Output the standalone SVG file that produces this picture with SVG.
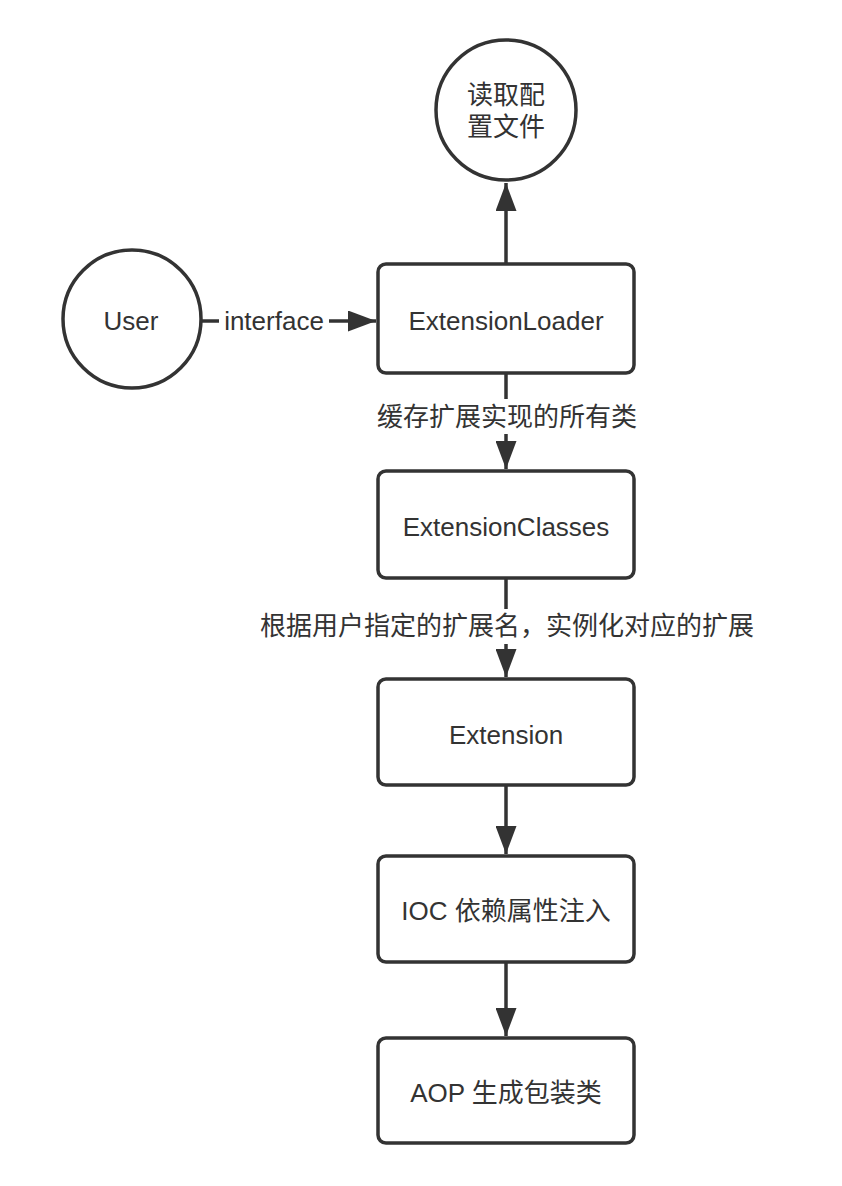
<svg xmlns="http://www.w3.org/2000/svg" width="842" height="1186" viewBox="0 0 842 1186">
<defs>
<style>
.shape{fill:#ffffff;stroke:#333333;stroke-width:3.5}
.edge{fill:none;stroke:#333333;stroke-width:3.5}
.t{font-family:"Liberation Sans","Noto Sans CJK SC",sans-serif;font-size:26px;fill:#333333;text-anchor:middle;dominant-baseline:central}
.lbl{fill:#ffffff;stroke:none}
</style>
<marker id="ah" markerWidth="8" markerHeight="6" refX="8" refY="3" orient="auto" markerUnits="strokeWidth">
<path d="M0,0 L8,3 L0,6 Z" fill="#333333"/>
</marker>
</defs>
<rect width="842" height="1186" fill="#ffffff"/>
<g id="connectors">
<line class="edge" x1="506" y1="263" x2="506" y2="183" marker-end="url(#ah)"/>
<line class="edge" x1="202" y1="321" x2="376" y2="321" marker-end="url(#ah)"/>
<rect class="lbl" x="219" y="306" width="110" height="30"/>
<text class="t" x="274" y="321">interface</text>
<line class="edge" x1="506" y1="373" x2="506" y2="469" marker-end="url(#ah)"/>
<rect class="lbl" x="376" y="399" width="264" height="35"/>
<text class="t" x="507" y="417">缓存扩展实现的所有类</text>
<line class="edge" x1="506" y1="578" x2="506" y2="677" marker-end="url(#ah)"/>
<rect class="lbl" x="258" y="609" width="500" height="35"/>
<text class="t" x="507" y="626">根据用户指定的扩展名，实例化对应的扩展</text>
<line class="edge" x1="506" y1="785" x2="506" y2="854" marker-end="url(#ah)"/>
<line class="edge" x1="506" y1="962" x2="506" y2="1036" marker-end="url(#ah)"/>
</g>
<g id="node-read">
<circle class="shape" cx="506" cy="110" r="70"/>
<text class="t" x="506" y="95">读取配</text>
<text class="t" x="506" y="127">置文件</text>
</g>
<g id="node-user">
<circle class="shape" cx="132" cy="319" r="69"/>
<text class="t" x="131" y="321">User</text>
</g>
<g id="node-loader">
<rect class="shape" x="378" y="264" width="256" height="109" rx="8"/>
<text class="t" x="506" y="321">ExtensionLoader</text>
</g>
<g id="node-classes">
<rect class="shape" x="378" y="471" width="256" height="107" rx="8"/>
<text class="t" x="506" y="527">ExtensionClasses</text>
</g>
<g id="node-extension">
<rect class="shape" x="378" y="679" width="256" height="106" rx="8"/>
<text class="t" x="506" y="735">Extension</text>
</g>
<g id="node-ioc">
<rect class="shape" x="378" y="856" width="256" height="106" rx="8"/>
<text class="t" x="506" y="911">IOC 依赖属性注入</text>
</g>
<g id="node-aop">
<rect class="shape" x="378" y="1038" width="256" height="105" rx="8"/>
<text class="t" x="506" y="1093">AOP 生成包装类</text>
</g>
</svg>
